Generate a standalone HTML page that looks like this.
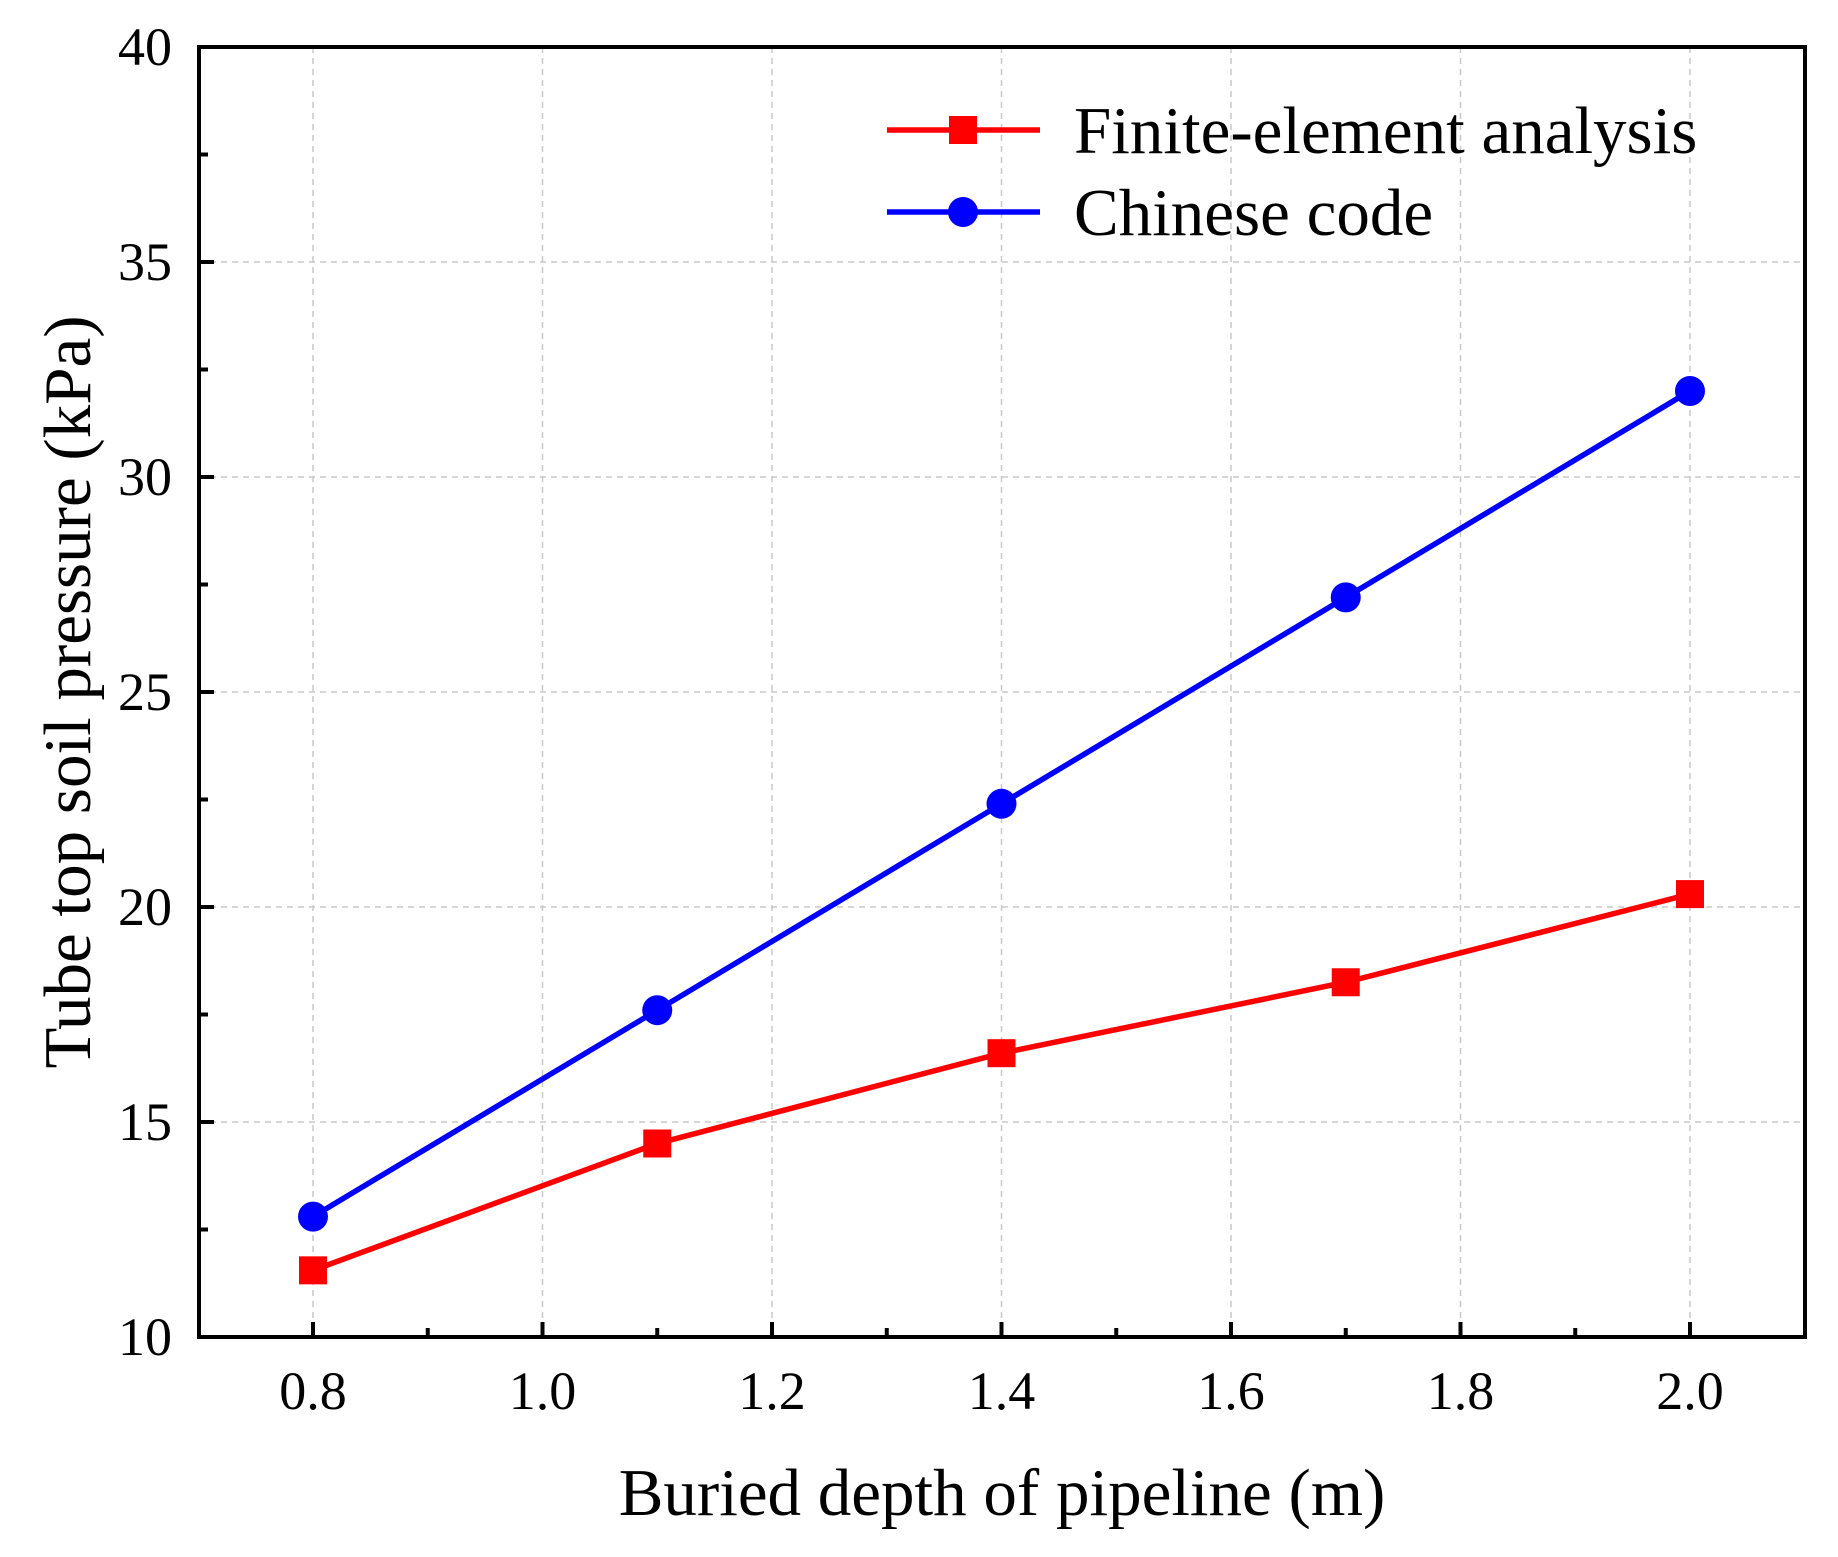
<!DOCTYPE html>
<html><head><meta charset="utf-8"><style>body{margin:0;background:#fff}svg{display:block}text{font-family:"Liberation Serif",serif;fill:#000}</style></head>
<body>
<svg id="c" width="1838" height="1557"></svg>
<script>
const xTicks=[0.8,1.0,1.2,1.4,1.6,1.8,2.0];
const xTickLabels=["0.8","1.0","1.2","1.4","1.6","1.8","2.0"];
const yTicks=[10,15,20,25,30,35,40];
const yTickLabels=["10","15","20","25","30","35","40"];
const depths=[0.8,1.1,1.4,1.7,2.0];
const feaValues=[11.55,14.5,16.6,18.25,20.3];
const codeValues=[12.8,17.6,22.4,27.2,32.0];
const L=199,R=1805,T=47,B=1337;
const sx=v=>313+(v-0.8)/1.2*(1690-313);
const sy=v=>B-(v-10)/30*(B-T);
const svg=document.getElementById('c');const NS='http://www.w3.org/2000/svg';
function mk(t,a,p){const e=document.createElementNS(NS,t);for(const k in a)e.setAttribute(k,a[k]);(p||svg).appendChild(e);return e;}
xTicks.forEach((v,i)=>{const g=mk('line',{x1:sx(v),x2:sx(v),y1:T,y2:B,stroke:'#c8c8c8','stroke-width':1.5,'stroke-dasharray':'6,5'});

});
yTicks.forEach(v=>{const g=mk('line',{x1:L,x2:R,y1:sy(v),y2:sy(v),stroke:'#c8c8c8','stroke-width':1.5,'stroke-dasharray':'6,5'});

});
xTicks.forEach((v,i)=>{mk('line',{x1:sx(v),x2:sx(v),y1:B,y2:B-15,stroke:'#000','stroke-width':4});
if(i<xTicks.length-1){const m=(v+xTicks[i+1])/2;mk('line',{x1:sx(m),x2:sx(m),y1:B,y2:B-9,stroke:'#000','stroke-width':4});}
const t=mk('text',{x:sx(v),y:1409,'text-anchor':'middle','font-size':54});t.textContent=xTickLabels[i];

});
yTicks.forEach((v,i)=>{mk('line',{x1:L,x2:L+15,y1:sy(v),y2:sy(v),stroke:'#000','stroke-width':4});
if(i<yTicks.length-1){const m=(v+yTicks[i+1])/2;mk('line',{x1:L,x2:L+9,y1:sy(m),y2:sy(m),stroke:'#000','stroke-width':4});}
const t=mk('text',{x:172,y:sy(v)+18,'text-anchor':'end','font-size':54});t.textContent=yTickLabels[i];

});
const fr=mk('rect',{x:L,y:T,width:R-L,height:B-T,fill:'none',stroke:'#000','stroke-width':4});


function series(vals,color,shape,name){
const pl=mk('polyline',{points:depths.map((d,i)=>sx(d)+','+sy(vals[i])).join(' '),fill:'none',stroke:color,'stroke-width':5.5});


depths.forEach((d,i)=>{let m;if(shape==='sq')m=mk('rect',{x:sx(d)-14,y:sy(vals[i])-14,width:28,height:28,fill:color});
else m=mk('circle',{cx:sx(d),cy:sy(vals[i]),r:15,fill:color});

});}
series(feaValues,'#ff0000','sq','fea');
series(codeValues,'#0000ff','ci','code');
mk('line',{x1:887,x2:1040,y1:130,y2:130,stroke:'#ff0000','stroke-width':5.5});
mk('rect',{x:949,y:116,width:28,height:28,fill:'#ff0000'});
mk('line',{x1:887,x2:1040,y1:212,y2:212,stroke:'#0000ff','stroke-width':5.5});
mk('circle',{cx:963,cy:212,r:15,fill:'#0000ff'});
let t=mk('text',{x:1074,y:153,'font-size':67});t.textContent='Finite-element analysis';


t=mk('text',{x:1074,y:235,'font-size':67});t.textContent='Chinese code';


t=mk('text',{x:1002,y:1515,'text-anchor':'middle','font-size':67});t.textContent='Buried depth of pipeline (m)';


t=mk('text',{x:0,y:0,'text-anchor':'middle','font-size':67,transform:'translate(90,692) rotate(-90)'});t.textContent='Tube top soil pressure (kPa)';


</script>
</body></html>
